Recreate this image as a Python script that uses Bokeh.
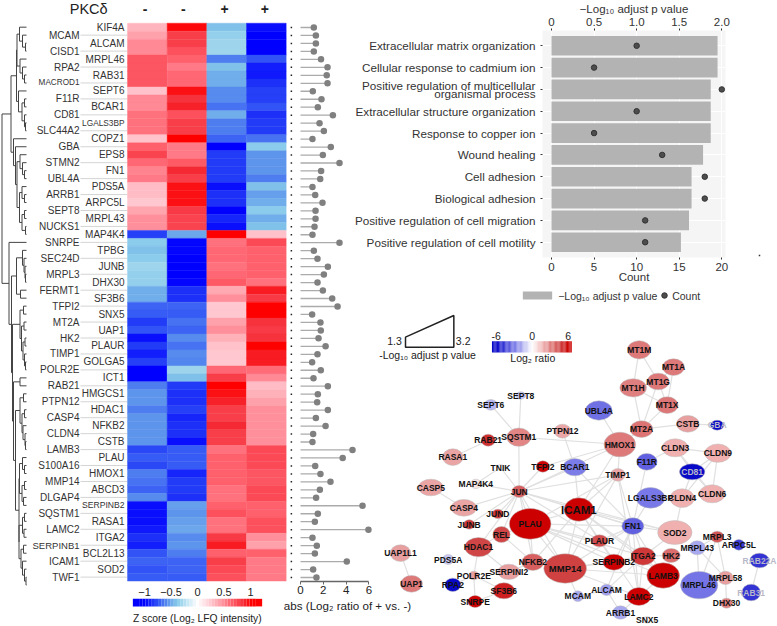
from bokeh.plotting import figure
from bokeh.embed import file_html
from bokeh.resources import INLINE
from bokeh.models import (Range1d, LinearAxis, LinearColorMapper, ColumnDataSource, FixedTicker,
                          FactorRange, NumeralTickFormatter)
from bokeh.core.properties import value
import numpy as np

FONT = "Liberation Sans"

# ---------- heatmap data ----------
genes = ["KIF4A","MCAM","ALCAM","CISD1","MRPL46","RPA2","RAB31","MACROD1","SEPT6","F11R","BCAR1","CD81","LGALS3BP","SLC44A2","COPZ1","GBA","EPS8","STMN2","FN1","UBL4A","PDS5A","ARRB1","ARPC5L","SEPT8","MRPL43","NUCKS1","MAP4K4","SNRPE","TPBG","SEC24D","JUNB","MRPL3","DHX30","FERMT1","SF3B6","TFPI2","SNX5","MT2A","UAP1","HK2","PLAUR","TIMP1","GOLGA5","POLR2E","ICT1","RAB21","HMGCS1","PTPN12","HDAC1","CASP4","NFKB2","CLDN4","CSTB","LAMB3","PLAU","S100A16","HMOX1","MMP14","ABCD3","DLGAP4","SERPINB2","SQSTM1","RASA1","LAMC2","ITGA2","SERPINB1","BCL2L13","ICAM1","SOD2","TWF1"]
col1 = [.33,.42,.5,.5,.7,.7,.7,.7,.28,.5,.5,.58,.58,.58,.27,.65,.78,.62,.52,.55,.3,.3,.25,.4,.48,.48,-.8,-.38,-.42,-.38,-.32,-.35,-.35,-.48,-.48,-.7,-.72,-.82,-.75,-.95,-.82,-.9,-.8,-1,-1,-.62,-.55,-.55,-.62,-.55,-.55,-.55,-.55,-.78,-.72,-.78,-.62,-.65,-.7,-.58,-.95,-.95,-.95,-.92,-.85,-.9,-.75,-.7,-.75,-.72]
col2 = [.97,.8,.8,.72,.65,.55,.62,.62,.95,.85,.9,.72,.8,.8,1,.55,.55,.68,.88,.8,.95,.95,.95,.82,.78,.78,-.5,-.98,-.98,-1,-1,-1,-.98,-.85,-.85,-.7,-.72,-.65,-.7,-.58,-.65,-.58,-.6,-.32,-.42,-.82,-.85,-.85,-.8,-.88,-.85,-.85,-.95,-.72,-.72,-.72,-.88,-.82,-.82,-.85,-.52,-.55,-.52,-.5,-.58,-.55,-.62,-.7,-.7,-.72]
col3 = [-.42,-.35,-.32,-.32,-.62,-.42,-.48,-.48,-.58,-.58,-.65,-.48,-.62,-.62,-.7,-1,-.82,-.82,-.82,-.82,-.95,-.85,-.85,-1,-.88,-.95,1,.58,.62,.62,.58,.62,.68,.38,.48,.25,.25,.42,.48,.35,.28,.25,.25,.62,.8,1,.95,.9,.8,.8,.88,.8,.8,.58,.65,.65,.65,.65,.58,.58,.65,.72,.58,.58,.82,.92,.65,.8,.75,.72]
col4 = [-.95,-1,-1,-1,-.75,-.9,-.92,-.85,-.8,-.8,-.75,-.85,-.82,-.82,-.65,-.38,-.55,-.55,-.55,-.62,-.42,-.52,-.48,-.38,-.48,-.42,.28,.75,.65,.65,.65,.65,.58,.92,.82,1,1,.85,.82,.85,1,.92,.92,.6,.5,.3,.35,.42,.48,.48,.48,.48,.48,.75,.75,.75,.7,.7,.75,.75,.65,.65,.72,.72,.48,.42,.65,.55,.55,.55]
lollipop = [1.17,1.35,1.35,1.17,1.8,2.37,2.3,2.37,1.08,1.84,1.52,2.84,1.67,2.05,1.05,2.66,1.96,3.42,1.81,1.73,1.05,1.29,1.93,1.32,1.32,1.23,1.05,3.42,1.17,1.49,2.4,2.05,1.49,1.96,2.78,3.25,1.02,1.75,1.78,1.58,2.2,1.49,1.02,1.78,1.14,2.4,1.52,1.46,2.4,1.35,2.2,1.11,1.05,4.56,3.7,1.29,1.75,2.63,1.7,1.37,5.44,1.52,1.26,5.96,1.05,1.43,1.26,4.06,1.11,1.4]
col_signs = ["-","-","+","+"]
heat_ticks = [-1,-0.5,0,0.5,1]
heat_tick_labels = ["\u22121","\u22120.5","0","0.5","1"]
L = None
dend_tree = [24.5,
    [15.5,
        [10, [9.5, [7,L,[4,L,[1,L,L]]], [6.5,L,[4,L,[2,L,L]]]], [8,L,[4.5,[2,L,L],[2,L,[1,L,L]]]]],
        [13, L, [11, L, [9.5,
            [6.5,L,[4,L,[2,L,L]]],
            [7,[4.5,L,[2,L,L]],[4.5,[2,L,L],[1,L,L]]]]]]],
    [17.5, L,
        [15,
            [10, [4,L,[2.5,L,[1.5,L,[1,L,L]]]], [6,L,L]],
            [14,
                [6.5,[3,L,L],[5,[2.5,L,L],[3.5,[1.5,L,L],[2,L,[1,L,L]]]]],
                [13, [6.5,L,L],
                    [11,
                        [6.5,[3,L,L],[4.5,[2,L,L],[3.5,L,[1.5,L,[1,L,L]]]]],
                        [7.5,
                            [7,[4,L,[2,L,L]],[4.5,[2,L,L],[3,L,L]]],
                            [7.5,[4,[2,L,L],[2.5,L,L]],[5.5,[3,L,L],[4,L,[2,L,[.5,L,L]]]]]]]]]]]]

# ---------- enrichment data ----------
terms = ["Extracellular matrix organization","Cellular response to cadmium ion","Positive regulation of multicellular\norganismal process","Extracellular structure organization","Response to copper ion","Wound healing","Cell adhesion","Biological adhesion","Positive regulation of cell migration","Positive regulation of cell motility"]
neg_log_p = [1.95,1.95,1.87,1.87,1.87,1.78,1.645,1.645,1.615,1.52]
counts = [10,5,20,10,5,13,18,18,11,11]
count_ticks = [0,5,10,15,20]
p_ticks = [0,0.5,1.0,1.5,2.0]

# ---------- network data ----------
node_names = ["MT1M","MT1A","MT1G","MT1H","MT1X","UBL4A","MT2A","CSTB","GBA","SEPT8","SEPT6","SQSTM1","PTPN12","RAB21","HMOX1","CLDN3","CLDN9","RASA1","TNIK","TFPI2","BCAR1","F11R","CD81","TIMP1","MAP4K4","CASP5","JUN","LGALS3BP","CLDN4","CLDN6","CASP4","ICAM1","JUND","JUNB","PLAU","FN1","SOD2","REL","HDAC1","MRPL3","ARPC5L","MRPL43","PLAUR","ITGA2","HK2","RAB22A","PDS5A","UAP1L1","NFKB2","SERPINB2","MMP14","SERPINI2","POLR2E","LAMB3","MRPL46","MRPL58","UAP1","RPA2","SF3B6","RAB31","ALCAM","MCAM","LAMC2","SNRPE","DHX30","ARRB1","SNX5"]
node_x = [776,879,833,758,860,655,783,922,1010,421,331,415,546,323,718,884,1012,217,360,487,583,799,935,712,286,151,416,810,905,995,250,595,352,266,449,757,883,363,294,1010,1075,950,657,788,872,1137,203,60,457,700,554,385,280,848,956,1035,93,217,370,1112,678,592,775,284,1038,720,800]
node_y = [58,110,153,172,224,240,296,280,284,195,223,320,302,329,342,352,368,380,411,408,410,394,424,433,460,471,483,502,503,490,532,537,550,582,580,587,606,612,650,619,643,652,631,677,675,690,687,668,695,695,714,724,735,735,764,742,760,763,781,786,778,797,798,813,818,846,868]
node_w = [70,66,66,80,66,80,68,68,40,30,40,72,50,42,95,78,78,62,20,40,70,62,76,44,32,74,44,86,72,78,76,88,34,34,125,66,103,52,82,40,36,50,50,72,54,58,34,62,66,66,128,66,30,98,112,46,66,48,66,56,38,34,72,44,36,48,24]
node_h = [55,50,50,55,50,58,50,50,30,22,32,55,42,36,74,54,55,50,18,34,52,50,48,38,28,50,36,62,56,54,50,70,28,28,92,50,72,48,58,34,32,42,36,54,42,44,30,50,50,48,88,46,26,76,82,40,50,40,48,50,34,32,54,36,30,40,20]
node_ratio = [3.2,3.2,3.2,3,3.3,-3.2,3.4,2.3,-6,-1.3,-1.5,2.9,2.1,5,3.2,1.8,1.8,2.2,.2,6,-2.9,-3.7,-6,2.1,.6,2.2,4,-3,1.8,1.8,2.2,6,4.8,4.8,6,-3.7,1.8,4.5,4.5,4.2,-4.6,-1.8,4.4,4.8,3.6,-4.8,-1.2,2.3,4,6,4.6,2.3,2.3,6,-3.1,2.3,3.2,-6,5.3,-4.8,-2,-1.8,6,6,3,-1.8,.2]
node_font = [8.5]*31 + [11.5] + [8.5]*18 + [9.5] + [8.5]*16
light_labels = ["GBA","RAB22A","RAB31","CD81"]
edges = ["MT1M-MT1H","MT1M-MT1G","MT1A-MT1G","MT1A-MT1X","MT1G-MT1H","MT1G-MT1X","MT1H-MT1X","MT1H-MT2A","MT1G-MT2A","MT1X-MT2A","MT2A-CSTB","MT2A-HMOX1","CSTB-GBA","UBL4A-HMOX1","SEPT8-SQSTM1","SEPT6-SQSTM1","SQSTM1-RAB21","RAB21-RASA1","SQSTM1-HMOX1","SQSTM1-JUN","PTPN12-BCAR1","HMOX1-TFPI2","HMOX1-JUN","HMOX1-ICAM1","HMOX1-TIMP1","CLDN3-F11R","CLDN3-CLDN9","CLDN3-CD81","CLDN3-CLDN6","CLDN9-CD81","CLDN9-CLDN6","CLDN9-CLDN4","CD81-CLDN6","CD81-CLDN4","F11R-FN1","CLDN4-SOD2","LGALS3BP-FN1","SOD2-FN1","SOD2-ICAM1","SOD2-ITGA2","TNIK-MAP4K4","TNIK-JUN","MAP4K4-JUN","CASP5-CASP4","CASP4-JUN","JUN-JUND","JUN-JUNB","JUN-REL","JUN-PLAU","JUN-ICAM1","JUN-HDAC1","JUN-TIMP1","JUN-FN1","JUN-TFPI2","JUN-BCAR1","JUN-MMP14","JUN-NFKB2","JUN-PLAUR","JUN-SOD2","TIMP1-ICAM1","TIMP1-FN1","TIMP1-PLAU","TIMP1-MMP14","TIMP1-LAMC2","BCAR1-ICAM1","BCAR1-FN1","ICAM1-FN1","ICAM1-PLAU","ICAM1-MMP14","ICAM1-NFKB2","ICAM1-ITGA2","ICAM1-LAMB3","ICAM1-LAMC2","ICAM1-PLAUR","ICAM1-SERPINB2","PLAU-FN1","PLAU-PLAUR","PLAU-MMP14","PLAU-NFKB2","PLAU-REL","PLAU-SERPINB2","PLAU-ITGA2","PLAU-LAMB3","FN1-MMP14","FN1-ITGA2","FN1-LAMB3","FN1-LAMC2","FN1-PLAUR","FN1-SERPINB2","FN1-ALCAM","REL-HDAC1","REL-NFKB2","HDAC1-POLR2E","HDAC1-SERPINI2","NFKB2-MMP14","NFKB2-SERPINI2","MMP14-SERPINB2","MMP14-LAMB3","MMP14-ITGA2","MMP14-MCAM","MMP14-LAMC2","ITGA2-LAMB3","ITGA2-LAMC2","ITGA2-ALCAM","LAMB3-LAMC2","MCAM-ALCAM","ALCAM-ARRB1","POLR2E-RPA2","POLR2E-SNRPE","SF3B6-SNRPE","POLR2E-SF3B6","UAP1L1-UAP1","MRPL3-MRPL43","MRPL3-MRPL46","MRPL3-MRPL58","MRPL43-MRPL46","MRPL43-MRPL58","MRPL46-MRPL58","MRPL58-DHX30","RAB22A-RAB31","HK2-ITGA2","ARRB1-LAMC2"]

ratio_ticks = [-6,0,6]

# ---------- colour maps ----------
def ramp(stops, n=256):
    xs = [s[0] for s in stops]
    rgb = np.array([[int(s[1][i:i+2],16) for i in (1,3,5)] for s in stops], float)
    t = np.linspace(xs[0], xs[-1], n)
    c = np.column_stack([np.interp(t, xs, rgb[:,i]) for i in range(3)]).round().astype(int)
    return ["#%02x%02x%02x" % tuple(v) for v in c]

heat_mapper = LinearColorMapper(low=-1, high=1, palette=ramp([
    (-1,"#0000FF"),(-.85,"#1C30F8"),(-.7,"#3C64F4"),(-.55,"#5F96EC"),(-.4,"#85C8EA"),(-.3,"#A3D8EE"),(0,"#FFFFFF"),
    (.25,"#FFC8D0"),(.45,"#FF9AA4"),(.6,"#FF6C78"),(.75,"#FB4C58"),(.88,"#F42A34"),(1,"#FF0000")]))
net_mapper = LinearColorMapper(low=-6, high=6, palette=ramp([
    (-6,"#0808C8"),(-4.5,"#4040D8"),(-3.7,"#6060E0"),(-3,"#7878E8"),(-1.6,"#B0B0F0"),(-1.2,"#C8C8F4"),(0,"#FFFFFF"),
    (1.8,"#F0B0B0"),(2.3,"#E8A0A0"),(3,"#E08080"),(4,"#D86060"),(4.5,"#D04848"),(6,"#CC0000")]))

def place(fig, left, top):
    fig.styles = {"position": "absolute", "left": f"{left}px", "top": f"{top}px"}

# ---------- left panel: dendrogram + labels + heatmap ----------
ROW_PX = 7.97
COL_PX = 39.67
HEAT_TOP = 22.7
HEAT_LEFT = 127
W1, H = 287, 626
n = len(genes)
p1 = figure(width=W1, height=H, output_backend="svg", toolbar_location=None,
            x_range=Range1d(-HEAT_LEFT/COL_PX, (W1-HEAT_LEFT)/COL_PX),
            y_range=Range1d((H-HEAT_TOP)/ROW_PX, -HEAT_TOP/ROW_PX),
            min_border=0, outline_line_color=None, x_axis_type=None, y_axis_type=None,
            background_fill_alpha=0, border_fill_alpha=0)
p1.grid.visible = False
p1.extra_x_ranges["dend"] = Range1d(26, 26-W1)
p1.extra_x_ranges["zbar"] = Range1d(-197/53, (W1-197)/53)
place(p1, 0, 0)

# dendrogram
seg_x0, seg_x1, seg_y0, seg_y1 = [], [], [], []
counter = [0]
def walk(node):
    if node is None:
        y = counter[0] + .5
        counter[0] += 1
        return 0.0, y
    h, a, b = node
    ha, ya = walk(a)
    hb, yb = walk(b)
    for hh, yy in ((ha, ya), (hb, yb)):
        seg_x0.append(hh); seg_x1.append(h); seg_y0.append(yy); seg_y1.append(yy)
    seg_x0.append(h); seg_x1.append(h); seg_y0.append(ya); seg_y1.append(yb)
    return h, (ya+yb)/2
walk(dend_tree)
p1.segment(seg_x0, seg_y0, seg_x1, seg_y1, x_range_name="dend", line_color="#444444", line_width=1)

# leader lines
idx = np.arange(n)
odd = idx[idx % 2 == 1]
even = idx[idx % 2 == 0]
p1.segment(x0=[-1.185]*len(odd), y0=odd+.5, x1=[0]*len(odd), y1=odd+.5, line_color="#D4D4D4", line_width=1)

# gene labels
label_size = {"LGALS3BP":"8.3px","MACROD1":"8.2px","SERPINB2":"8.6px","SERPINB1":"9.5px"}
sizes = [label_size.get(g, "10px") for g in genes]
for subset, xpos in ((even, -0.075), (odd, -1.21)):
    p1.text(x=[xpos]*len(subset), y=subset+.5, text=[genes[i] for i in subset],
            text_font=value(FONT), text_font_size=[sizes[i] for i in subset],
            text_align="right", text_baseline="middle", text_color="#333333")

# cells
hx, hy, hz = [], [], []
for c, vals in enumerate((col1, col2, col3, col4)):
    for r, v in enumerate(vals):
        hx.append(c+.5); hy.append(r+.5); hz.append(v)
src = ColumnDataSource(dict(x=hx, y=hy, z=hz))
p1.rect("x", "y", 1, 1, source=src, fill_color={"field":"z","transform":heat_mapper},
        line_color={"field":"z","transform":heat_mapper}, line_width=.4)

# header
p1.text(x=[-1.455], y=[-1.8], text=["PKC\u03b4"], text_font=value(FONT), text_font_size="14.5px",
        text_align="left", text_baseline="middle", text_color="#222222")
p1.text(x=[.446,1.41,2.45,3.46], y=[-1.8]*4, text=col_signs, text_font=value(FONT), text_font_size="14px",
        text_font_style="bold", text_align="center", text_baseline="middle", text_color="#222222")

# colour bar for heat
zs = np.linspace(-1.19, 1.19, 41).tolist()
zsrc = ColumnDataSource(dict(x=zs, y=[72.7]*41, z=zs))
p1.rect("x", "y", .0595, .95, source=zsrc, x_range_name="zbar",
        fill_color={"field":"z","transform":heat_mapper}, line_color=None)
p1.text(x=heat_ticks, y=[72.7-1.37]*5, text=heat_tick_labels, x_range_name="zbar",
        text_font=value(FONT), text_font_size="11px", text_align="center",
        text_baseline="middle", text_color="#222222")
p1.text(x=[1.21], y=[74.7], text=["Z score (Log\u2082 LFQ intensity)"], x_range_name="zbar",
        text_font=value(FONT), text_font_size="10.3px", text_align="right",
        text_baseline="middle", text_color="#222222")

# ---------- lollipops ----------
P2_LEFT, W2 = 279, 136
ZERO_X = 300
LOL_UNIT = 11.4
p2 = figure(width=W2, height=H, output_backend="svg", toolbar_location=None,
            x_range=Range1d((P2_LEFT-ZERO_X)/LOL_UNIT, (P2_LEFT+W2-ZERO_X)/LOL_UNIT), y_range=Range1d(n, 0),
            min_border_left=0, min_border_right=0, min_border_top=23, min_border_bottom=45,
            outline_line_color=None, y_axis_type=None,
            background_fill_alpha=0, border_fill_alpha=0)
p2.grid.visible = False
place(p2, P2_LEFT, 0)
ys = idx + .5
p2.segment(x0=[0]*n, y0=ys, x1=lollipop, y1=ys, line_color="#ABABAB", line_width=1.3)
p2.scatter(x=lollipop, y=ys, size=6.5, color="#808080", line_color=None)
p2.scatter(x=[-.8]*n, y=ys, marker="square", size=1.5, color="#222222", line_color=None)
ax = p2.xaxis[0]
ax.bounds = (0, 6)
ax.ticker = FixedTicker(ticks=[0,2,4,6])
ax.axis_line_color = "#666666"; ax.axis_line_width = 1.5
ax.major_tick_line_color = "#666666"; ax.major_tick_out = 3; ax.major_tick_in = 0; ax.minor_tick_line_color = None
ax.major_label_text_font = FONT; ax.major_label_text_font_size = "11.5px"; ax.major_label_text_color = "#222222"
ax.major_label_standoff = 1
ax.axis_label = "abs (Log\u2082 ratio of + vs. -)"
ax.axis_label_text_font = FONT; ax.axis_label_text_font_size = "11.6px"; ax.axis_label_text_font_style = "normal"
ax.axis_label_text_color = "#222222"; ax.axis_label_standoff = 2

# ---------- enrichment bars ----------
R = 341
TOPSHIFT = 10
BW, BH = 777-R, 285 + TOPSHIFT
FR_L, FR_R = 541.7, 725
COUNT_UNIT = 8.53
cstart, cend = (FR_L-550.7)/COUNT_UNIT, (FR_R-550.7)/COUNT_UNIT
pb = figure(width=BW, height=BH, output_backend="svg", toolbar_location=None,
            x_range=Range1d(cstart, cend),
            y_range=FactorRange(factors=terms[::-1], range_padding=.2, range_padding_units="absolute"),
            min_border_left=int(FR_L-R+.5), min_border_right=int(777-FR_R), min_border_top=30+TOPSHIFT, min_border_bottom=285-257,
            outline_line_color=None, background_fill_color="#F5F5F5", border_fill_alpha=0, x_axis_location="below")
place(pb, R, -TOPSHIFT)
pb.extra_x_ranges["p"] = Range1d(cstart/10, cend/10)
pb.hbar(y=terms, right=neg_log_p, left=0, height=.9, x_range_name="p", color="#B3B3B3", line_color=None)
pb.scatter(x=counts, y=terms, size=5.5, color="#4D4D4D", line_color="#333333")
pb.ygrid.grid_line_color = "#FFFFFF"; pb.xgrid.grid_line_color = "#FFFFFF"
top = LinearAxis(x_range_name="p", ticker=FixedTicker(ticks=p_ticks), axis_label="\u2212Log\u2081\u2080 adjust p value")
top.formatter = NumeralTickFormatter(format="0.0")
top.major_label_overrides = {0: "0"}
bot = pb.xaxis[0]
pb.add_layout(top, "above")
bot.ticker = FixedTicker(ticks=count_ticks)
bot.axis_label = "Count"
pb.xgrid.ticker = FixedTicker(ticks=count_ticks)
for a in (top, bot):
    a.axis_line_color = None
    a.major_tick_line_color = "#333333"; a.major_tick_out = 2; a.major_tick_in = 0; a.minor_tick_line_color = None
    a.major_label_text_font = FONT; a.major_label_text_font_size = "11.5px"; a.major_label_text_color = "#333333"
    a.major_label_standoff = 3
    a.axis_label_text_font = FONT; a.axis_label_text_font_size = "11.5px"; a.axis_label_text_font_style = "normal"
    a.axis_label_text_color = "#333333"; a.axis_label_standoff = -3
top.axis_label_standoff = 0
ya = pb.yaxis[0]
ya.axis_line_color = None
ya.major_tick_line_color = "#333333"; ya.major_tick_out = 2; ya.major_tick_in = 0
ya.major_label_text_font = FONT; ya.major_label_text_font_size = "11.7px"; ya.major_label_text_color = "#333333"
ya.major_label_text_line_height = .68
ya.major_label_standoff = 5

# ---------- network + legends ----------
NTOP = 250
pn = figure(width=BW, height=H-NTOP, output_backend="svg", toolbar_location=None,
            x_range=Range1d((R-380)*3, (777-380)*3), y_range=Range1d((H-330)*3, (NTOP-330)*3),
            min_border=0, outline_line_color=None, x_axis_type=None, y_axis_type=None,
            background_fill_alpha=0, border_fill_alpha=0)
pn.grid.visible = False
place(pn, R, NTOP)
pn.extra_x_ranges["ratio"] = Range1d(((R-380)*3-455)/18, ((777-380)*3-455)/18)
pos = {nm: (x, y) for nm, x, y in zip(node_names, node_x, node_y)}
ex0, ey0, ex1, ey1 = [], [], [], []
for e in edges:
    a, b = e.split("-")
    ex0.append(pos[a][0]); ey0.append(pos[a][1]); ex1.append(pos[b][0]); ey1.append(pos[b][1])
pn.segment(ex0, ey0, ex1, ey1, line_color="#E0E0E0", line_width=1.2)
nsrc = ColumnDataSource(dict(x=node_x, y=node_y, w=node_w, h=node_h, r=node_ratio, name=node_names,
                             fs=["%gpx" % f for f in node_font],
                             tc=["#B8B8C8" if nm in light_labels else "#111111" for nm in node_names]))
pn.ellipse("x", "y", "w", "h", source=nsrc, fill_color={"field":"r","transform":net_mapper},
           line_color="#BBBBBB", line_width=.5)
pn.text("x", "y", text="name", source=nsrc, text_font=value(FONT), text_font_size="fs", text_color="tc",
        text_font_style="bold", text_align="center", text_baseline="middle")

# stray mark right of the bar chart
pn.scatter(x=[1137], y=[-225], marker="square", size=1.5, color="#333333", line_color=None)

# bar-chart legend
pn.rect(x=[471], y=[-105], width=88, height=24, color="#B3B3B3", line_color=None)
pn.text(x=[533], y=[-105], text=["\u2212Log\u2081\u2080 adjust p value"], text_font=value(FONT), text_font_size="10.5px",
        text_baseline="middle", text_color="#333333")
pn.scatter(x=[852], y=[-105], size=5.5, color="#4D4D4D", line_color="#333333")
pn.text(x=[875], y=[-103], text=["Count"], text_font=value(FONT), text_font_size="10.5px",
        text_baseline="middle", text_color="#333333")

# wedge legend
pn.patch(x=[75,220,220,75], y=[50,50,-45,20], fill_color=None, line_color="#222222", line_width=1.5)
pn.text(x=[42,248], y=[32,32], text=["1.3","3.2"], text_font=value(FONT), text_font_size="10.5px",
        text_align="center", text_baseline="middle", text_color="#222222")
pn.text(x=[141], y=[72], text=["-Log\u2081\u2080 adjust p value"], text_font=value(FONT), text_font_size="10.5px",
        text_align="center", text_baseline="middle", text_color="#222222")

# ratio colour bar
rv = np.linspace(-6.6, 6.5, 66).tolist()
rsrc = ColumnDataSource(dict(x=rv, y=[49]*66, r=rv))
pn.rect("x", "y", .205, 34, source=rsrc, x_range_name="ratio", fill_color={"field":"r","transform":net_mapper}, line_color=None)
pn.text(x=ratio_ticks, y=[16]*3, text=[str(t) for t in ratio_ticks], x_range_name="ratio",
        text_font=value(FONT), text_font_size="10.5px", text_align="center", text_baseline="middle", text_color="#222222")
pn.text(x=[.1], y=[82], text=["Log\u2082 ratio"], x_range_name="ratio",
        text_font=value(FONT), text_font_size="10.5px", text_align="center", text_baseline="middle", text_color="#222222")

open("out.html", "w").write(file_html([p1, p2, pb, pn], INLINE))
